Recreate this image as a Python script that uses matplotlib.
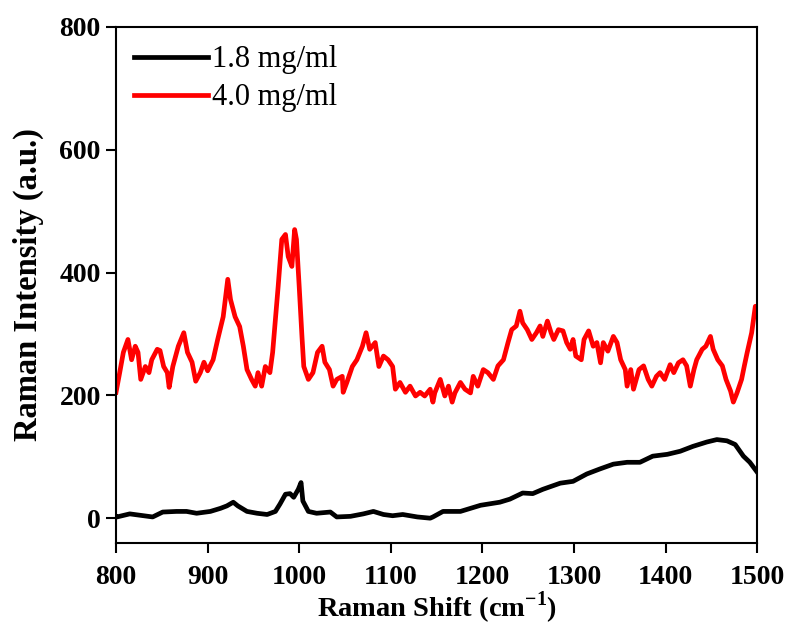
import matplotlib
matplotlib.use("Agg")
import matplotlib.pyplot as plt

# 4.0 mg/ml spectrum (red)
x_red = [800, 804, 808, 813, 817, 821, 824, 827, 832, 836, 839, 845, 848, 852, 856, 858,
         862, 868, 874, 878, 883, 887, 892, 896, 900, 906, 911, 917, 922, 925, 930, 935,
         939, 943, 948, 952, 955, 959, 963, 968, 971, 977, 981, 985, 988, 992, 995, 997,
         1000, 1003, 1005, 1010, 1015, 1020, 1025, 1028, 1033, 1037, 1041, 1047, 1048,
         1052, 1058, 1063, 1069, 1073, 1077, 1083, 1087, 1092, 1097, 1102, 1105, 1110,
         1116, 1121, 1127, 1132, 1137, 1143, 1146, 1148, 1154, 1159, 1163, 1167, 1170,
         1176, 1181, 1187, 1190, 1195, 1201, 1206, 1212, 1217, 1223, 1228, 1232, 1237,
         1241, 1244, 1249, 1254, 1259, 1263, 1266, 1271, 1275, 1278, 1283, 1288, 1292,
         1296, 1299, 1302, 1308, 1311, 1316, 1321, 1325, 1329, 1332, 1337, 1343, 1347,
         1351, 1356, 1358, 1362, 1365, 1371, 1376, 1381, 1385, 1390, 1394, 1399, 1405,
         1409, 1414, 1419, 1423, 1427, 1431, 1434, 1440, 1444, 1449, 1452, 1457, 1462,
         1466, 1471, 1474, 1478, 1483, 1486, 1489, 1494, 1498, 1500]
y_red = [205, 237, 270, 291, 258, 280, 270, 226, 247, 237, 258, 275, 273, 247, 237, 213,
         247, 280, 302, 270, 254, 223, 237, 254, 240, 258, 291, 328, 389, 356, 328, 312,
         280, 242, 226, 215, 237, 215, 247, 237, 270, 377, 454, 462, 426, 410, 470, 454,
         377, 296, 247, 226, 237, 270, 280, 254, 242, 215, 226, 231, 205,
         221, 247, 258, 280, 302, 275, 286, 247, 264, 258, 247, 210, 221,
         205, 215, 199, 205, 199, 210, 189, 204, 226, 199, 215, 189, 204,
         221, 210, 204, 231, 215, 242, 237, 226, 248, 258, 286, 307, 313,
         337, 318, 307, 291, 302, 313, 296, 321, 302, 291, 307, 305, 286,
         275, 291, 264, 258, 291, 305, 280, 286, 253, 286, 272, 296, 286,
         258, 242, 215, 242, 210, 242, 248, 226, 215, 231, 237, 226, 250,
         237, 253, 258, 248, 215, 242, 258, 275, 280, 296, 275, 258, 248,
         226, 207, 189, 204, 226, 248, 269, 302, 345, 345]

# 1.8 mg/ml spectrum (black)
x_blk = [800, 801, 815, 830, 840, 851, 866, 877, 888, 903, 914, 921, 928, 933, 943, 954,
         965, 974, 979, 985, 990, 994, 999, 1002, 1004, 1010, 1019, 1034, 1041, 1056,
         1070, 1081, 1092, 1102, 1113, 1129, 1143, 1146, 1157, 1176, 1198, 1219, 1230,
         1244, 1255, 1266, 1285, 1299, 1314, 1328, 1343, 1358, 1372, 1386, 1402, 1416,
         1430, 1445, 1456, 1467, 1476, 1485, 1492, 1500]
y_blk = [3, 2, 7, 4, 2, 10, 11, 11, 8, 11, 16, 20, 26, 20, 11, 8,
         6, 11, 23, 39, 40, 34, 47, 58, 28, 11, 8, 10, 2, 3,
         7, 11, 6, 4, 6, 2, 0, 2, 11, 11, 21, 26, 31,
         41, 40, 47, 57, 60, 72, 80, 88, 91, 91, 101, 104, 109,
         117, 124, 128, 126, 120, 101, 91, 75]

labels = ["1.8 mg/ml", "4.0 mg/ml"]

plt.rcParams['font.family'] = ['Liberation Serif', 'DejaVu Serif']
plt.rcParams['mathtext.fontset'] = 'custom'
plt.rcParams['mathtext.rm'] = 'Liberation Serif:bold'
plt.rcParams['mathtext.bf'] = 'Liberation Serif:bold'

fig = plt.figure(figsize=(7.92, 6.26), dpi=100)
ax = fig.add_axes([0.1465, 0.133, 0.8095, 0.824])

ax.plot(x_blk, y_blk, color='black', lw=3.4, label=labels[0], solid_joinstyle='round')
ax.plot(x_red, y_red, color='#ff0000', lw=3.4, label=labels[1], solid_joinstyle='round')

ax.set_xlim(800, 1500)
ax.set_ylim(-40, 800)
ax.set_xticks([800, 900, 1000, 1100, 1200, 1300, 1400, 1500])
ax.set_yticks([0, 200, 400, 600, 800])

for sp in ax.spines.values():
    sp.set_linewidth(1.5)
ax.tick_params(direction='out', length=7, width=1.5, labelsize=20)
ax.tick_params(axis='x', pad=9)
ax.tick_params(axis='y', pad=4)
for lab in ax.get_xticklabels() + ax.get_yticklabels():
    lab.set_fontweight('bold')

ax.set_xlabel('Raman Shift (cm$^{-1}$)', fontsize=20.5, fontweight='bold', labelpad=0)
ax.set_ylabel('Raman Intensity (a.u.)', fontsize=23.5, fontweight='bold', labelpad=11)

leg = ax.legend(loc='upper left', frameon=False, fontsize=22, handlelength=2.4,
                handletextpad=0.15, labelspacing=0.3, borderaxespad=0.2,
                bbox_to_anchor=(0.0, 1.0))

fig.savefig('out.png', dpi=100)
